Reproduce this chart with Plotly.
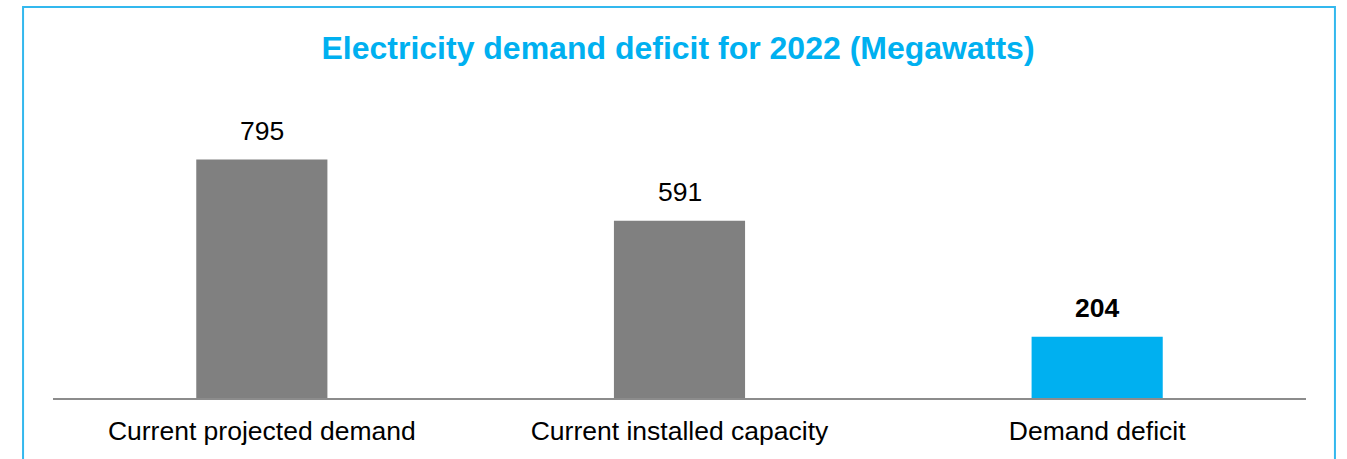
import plotly.graph_objects as go

categories = ["Current projected demand", "Current installed capacity", "Demand deficit"]
values = [795, 591, 204]
bar_colors = ["#808080", "#808080", "#00B0F0"]
label_bold = [False, False, True]

FONT = "Liberation Sans, Arial, sans-serif"

fig = go.Figure(
    go.Bar(
        x=categories,
        y=values,
        width=0.314,
        marker=dict(color=bar_colors, line=dict(width=0)),
        hoverinfo="skip",
    )
)

# value labels above each bar
for cat, val, bold in zip(categories, values, label_bold):
    fig.add_annotation(
        x=cat,
        y=val,
        text=f"<b>{val}</b>" if bold else str(val),
        showarrow=False,
        yanchor="bottom",
        yshift=12,
        font=dict(family=FONT, size=26.5, color="#000000"),
    )

# light blue frame around the chart area
fig.add_shape(
    type="rect",
    xref="paper", yref="paper",
    x0=-0.0239, x1=1.0231, y0=-0.25, y1=1.3033,
    line=dict(color="#33B8EE", width=2),
    fillcolor="rgba(0,0,0,0)",
    layer="below",
)

fig.update_layout(
    width=1347,
    height=459,
    margin=dict(l=53, r=41, t=98, b=61),
    paper_bgcolor="#FFFFFF",
    plot_bgcolor="#FFFFFF",
    showlegend=False,
    title=dict(
        text="<b>Electricity demand deficit for 2022 (Megawatts)</b>",
        font=dict(family=FONT, size=32, color="#00B0F0"),
        x=678 / 1347,
        xref="container",
        xanchor="center",
        y=1 - 48 / 459,
        yref="container",
        yanchor="middle",
    ),
    xaxis=dict(
        showline=True,
        linecolor="#8C8C8C",
        linewidth=1.5,
        showgrid=False,
        ticks="",
        tickfont=dict(family=FONT, size=26.5, color="#000000"),
        ticklabelstandoff=8,
    ),
    yaxis=dict(
        range=[0, 1000],
        visible=False,
        showgrid=False,
        zeroline=False,
    ),
)

fig.write_html("out.html")
